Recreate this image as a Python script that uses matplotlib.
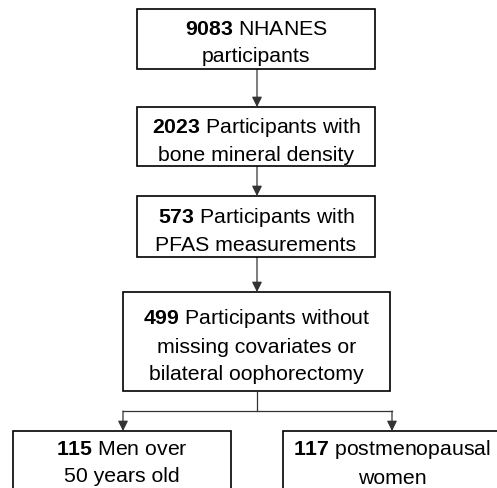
import matplotlib.pyplot as plt
from matplotlib.patches import Rectangle

plt.rcParams['font.family'] = ['Liberation Sans', 'DejaVu Sans']
plt.rcParams['mathtext.fontset'] = 'custom'
plt.rcParams['mathtext.rm'] = 'Liberation Sans'
plt.rcParams['mathtext.bf'] = 'Liberation Sans:bold'

# flowchart content
counts = [9083, 2023, 573, 499, 115, 117]
first_lines = ["NHANES", "Participants with", "Participants with",
               "Participants without", "Men over", "postmenopausal"]
rest_lines = ["participants", "bone mineral density", "PFAS measurements",
              "missing covariates or\nbilateral oophorectomy",
              "50 years old", "women"]

# box layout in pixel coords: (left, top, right, bottom)
boxes = [(137, 10, 375, 70),
         (137, 108, 375, 167),
         (137, 197, 375, 258),
         (123, 293, 390, 392),
         (13, 432, 231, 497),
         (283, 432, 501, 497)]
# nudge of the label from the box centre (bottom boxes run off the page)
text_dy = [3, 3, 3, 3, -1.5, -1.5]

W, H = 497, 489
fig = plt.figure(figsize=(W / 100, H / 100), dpi=100)
ax = fig.add_axes([0, 0, 1, 1])
ax.set_xlim(0, W)
ax.set_ylim(H, 0)
ax.axis('off')

for (l, t, r, b), dy, n, f, rest in zip(boxes, text_dy, counts,
                                        first_lines, rest_lines):
    ax.add_patch(Rectangle((l, t), r - l, b - t, facecolor='white',
                           edgecolor='black', linewidth=1.2, zorder=2))
    label = r"$\mathbf{%d}$ %s" % (n, f) + "\n" + rest
    ax.text((l + r) / 2, (t + b) / 2 + dy, label, ha='center', va='center',
            fontsize=15.3, linespacing=1.52, zorder=3)


def arrow(x, y0, y1):
    ax.annotate("", xy=(x, y1), xytext=(x, y0),
                arrowprops=dict(arrowstyle="-|>", color='#333333', lw=0.9,
                                mutation_scale=15, shrinkA=0, shrinkB=0),
                zorder=1)


cx = 257
arrow(cx, boxes[0][3], boxes[1][1])
arrow(cx, boxes[1][3], boxes[2][1])
arrow(cx, boxes[2][3], boxes[3][1])

# split to the two subgroups
ysplit = 412
ax.plot([cx, cx], [boxes[3][3], ysplit], color='#333333', lw=0.9)
ax.plot([123, 392], [ysplit, ysplit], color='#333333', lw=0.9)
arrow(123, ysplit, boxes[4][1])
arrow(392, ysplit, boxes[5][1])

fig.savefig("out.png", dpi=100)
